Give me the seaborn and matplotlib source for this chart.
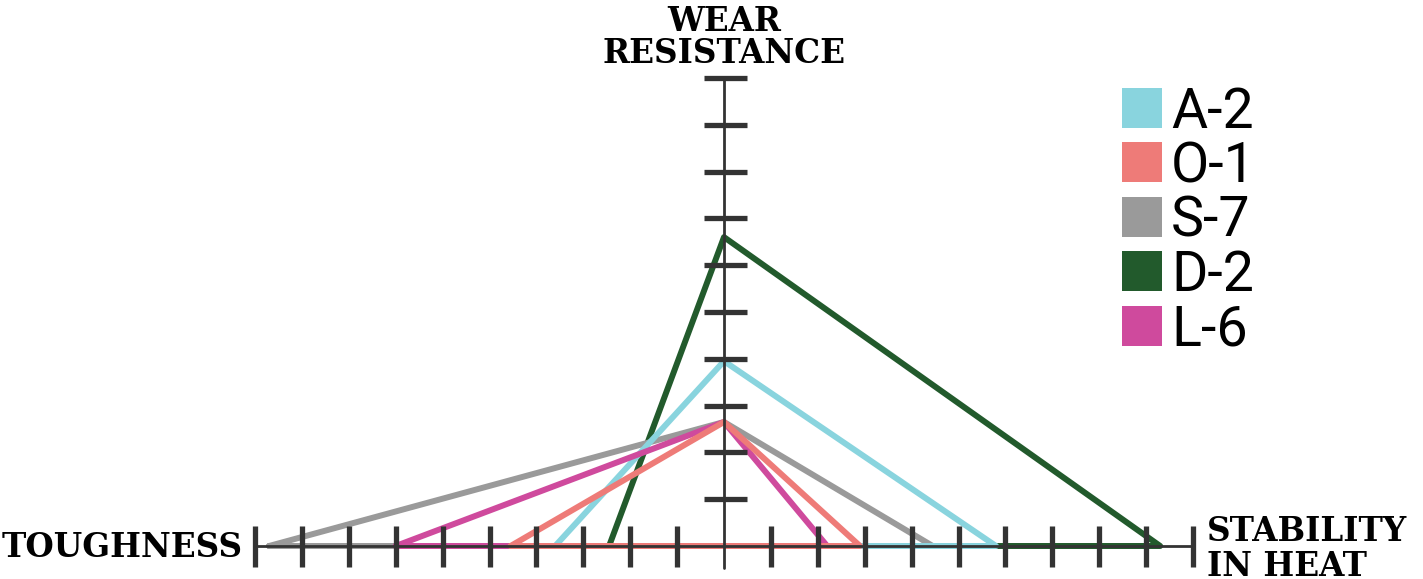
import numpy as np
import pandas as pd
import matplotlib
matplotlib.use("Agg")
import matplotlib.pyplot as plt
from matplotlib.patches import Rectangle
import seaborn as sns

# tool steels, values in axis-tick units
steels     = ["A-2", "O-1", "S-7", "D-2", "L-6"]
toughness  = [3.6, 4.55, 9.7, 2.45, 7.0]
wear       = [3.95, 2.65, 2.65, 6.6, 2.65]
heat       = [5.8, 2.9, 4.45, 9.3, 2.2]
colors     = ["#89D4DE", "#EE7B78", "#9A9A9A", "#225A2C", "#CF4A9D"]
draw_order = ["D-2", "S-7", "A-2", "L-6", "O-1"]
n_ticks    = 10

W, H = 1423, 579
AX_COL = "#333333"

rows = []
for s, t, w, h in zip(steels, toughness, wear, heat):
    for k, (x, y) in enumerate([(-t, 0), (0, w), (h, 0), (-t, 0)]):
        rows.append({"steel": s, "step": k, "x": x, "y": y})
df = pd.DataFrame(rows)

sns.set_style("white")
fig = plt.figure(figsize=(W / 100, H / 100), dpi=100)
ax = fig.add_axes([0, 0, 1, 1])

# pixel mapping: x=0 at 724px, 46.9 px/unit; y=0 at 546px, 46.8 px/unit
ux, uy = 46.9, 46.8
ax.set_xlim(-724 / ux, (W - 724) / ux)
ax.set_ylim(-(H - 546) / uy, 546 / uy)
ax.axis("off")

sns.lineplot(data=df, x="x", y="y", hue="steel", hue_order=draw_order,
             palette=dict(zip(steels, colors)), sort=False, estimator=None,
             legend=False, lw=4.3, ax=ax, solid_joinstyle="round")

# axes with ticks
ax.plot([-n_ticks, n_ticks], [0, 0], color=AX_COL, lw=2, zorder=5)
ax.plot([0, 0], [-0.47, n_ticks], color=AX_COL, lw=2, zorder=5)
for i in range(1, n_ticks + 1):
    for sgn in (-1, 1):
        ax.plot([sgn * i, sgn * i], [-0.45, 0.42], color=AX_COL, lw=3.8,
                solid_capstyle="butt", zorder=6)
    ax.plot([-0.43, 0.49], [i, i], color=AX_COL, lw=3.8,
            solid_capstyle="butt", zorder=6)

slab = dict(family=["DejaVu Serif"], fontweight="bold", color="black")
ax.text(0, (546 - 70) / uy, "WEAR\nRESISTANCE", ha="center", va="bottom",
        fontsize=23.5, linespacing=0.95, **slab)
ax.text(-10 - 12 / ux, -11 / uy, "TOUGHNESS", ha="right", va="baseline",
        fontsize=23.5, **slab)
ax.text(10 + 14 / ux, 31 / uy, "STABILITY\nIN HEAT", ha="left", va="top",
        fontsize=23.5, linespacing=1.06, **slab)

# legend as colored squares
for k, (s, c) in enumerate(zip(steels, colors)):
    bottom = 128 + k * 54.4
    fig.add_artist(Rectangle((1122 / W, 1 - bottom / H), 40 / W, 40 / H,
                             transform=fig.transFigure, color=c, lw=0))
    fig.text(1171 / W, 1 - bottom / H, s, ha="left", va="baseline",
             fontsize=40, family=["Roboto", "DejaVu Sans"], color="black")

fig.savefig("out.png", dpi=100, facecolor="white")
